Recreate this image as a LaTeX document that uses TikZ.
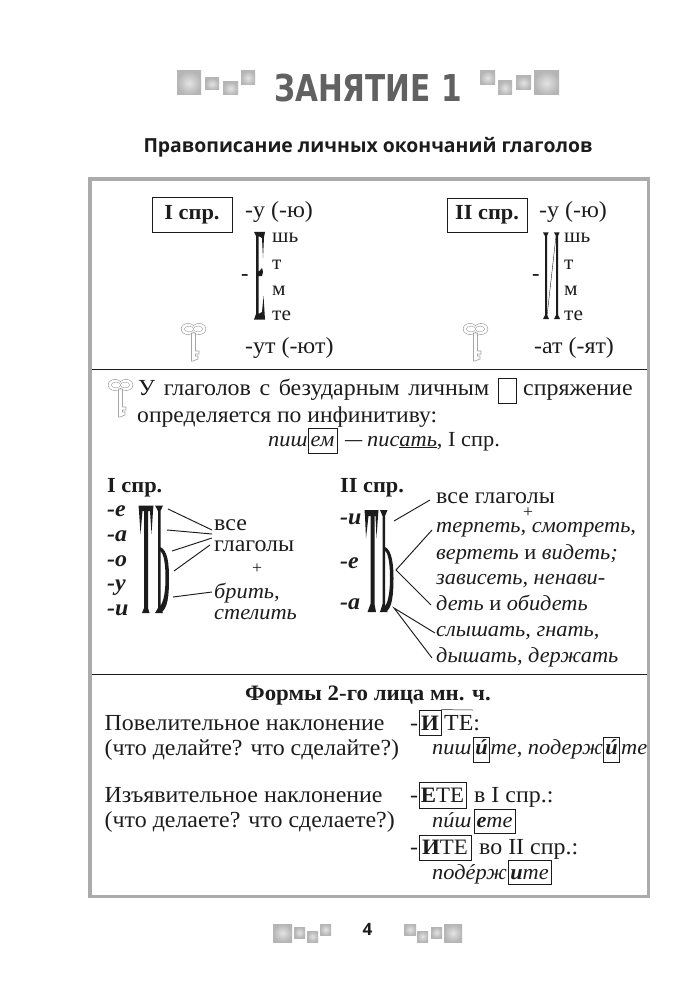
\documentclass[tikz,border=0pt]{standalone}
\usepackage{fontspec}
\setmainfont[FakeStretch=1.04]{Liberation Serif}
\newfontfamily\headfont{Open Sans}
\newfontfamily\titlefont{DejaVu Sans}
\usetikzlibrary{shapes.geometric}
\definecolor{ink}{HTML}{1C1C1C}
\definecolor{framegray}{HTML}{ABABAB}
\newcommand{\sqr}[4]{\shade[inner color=gray!22,outer color=gray!58] (#1,#2) rectangle (#3,#4);}
\newcommand{\acut}[1]{\setbox0\hbox{#1}\hbox{\rlap{\hbox to\wd0{\hss\kern0.08em ´\hss}}\box0}}
\tikzset{
  x=1pt,y=-1pt,
  txt/.style={anchor=base west,inner sep=0pt,text=ink,font=\fontsize{23}{26}\selectfont},
  small/.style={txt,font=\fontsize{20.5}{24}\selectfont},
  plus/.style={anchor=center,inner sep=0pt,text=ink,font=\fontsize{17}{20}\selectfont},
  ital/.style={txt,font=\fontsize{21.5}{25}\selectfont\itshape},
  bold/.style={txt,font=\fontsize{21.5}{26}\selectfont\bfseries},
  bital/.style={txt,font=\fontsize{23}{26}\selectfont\bfseries\itshape},
  frameline/.style={draw=ink,line width=0.9pt},
  conn/.style={draw=ink,line width=0.95pt},
  boxed/.style={draw=ink,line width=0.8pt,inner sep=0pt,text=ink,text depth=3pt,text height=#1},
  key/.pic={
    \draw[gray!70,line width=0.7pt] (7,6) ellipse (6.8 and 5.5);
    \draw[gray!70,line width=0.7pt] (18,6) ellipse (6.8 and 5.5);
    \fill[white] (7,6) ellipse (6.3 and 5);
    \fill[white] (18,6) ellipse (6.3 and 5);
    \draw[gray!70,line width=0.6pt] (8,6) ellipse (4.6 and 2.8);
    \draw[gray!70,line width=0.6pt] (17,6) ellipse (4.6 and 2.8);
    \fill[white] (8,6) ellipse (4.2 and 2.4);
    \fill[white] (17,6) ellipse (4.2 and 2.4);
    \draw[gray!70,line width=0.7pt,fill=white] (10.5,10)--(14.5,10)--(14.5,28)--(18,28)--(18,31)--(14.5,31)--(14.5,33)--(17,33)--(17,36)--(12,38)--(10.5,38)--cycle;
  }
}
\begin{document}
\begin{tikzpicture}
\useasboundingbox (0,0) rectangle (700,1000);
\fill[white] (0,0) rectangle (700,1000);
% title ornaments
\sqr{177}{71}{201}{95}\sqr{205}{78}{219}{90}\sqr{223}{82}{238}{95}\sqr{241}{71}{255}{85}
\sqr{480}{71}{495}{85}\sqr{498}{81}{512}{95}\sqr{516}{76}{531}{90}\sqr{534}{71}{559}{95}
\node[anchor=base,inner sep=0pt,text=black!62,font=\fontsize{37}{40}\selectfont\titlefont\bfseries] (title) at (368,101.5) {\scalebox{0.80}[1]{ЗАНЯТИЕ 1}};
\node[anchor=base,inner sep=0pt,text=ink,font=\fontsize{19.4}{23}\selectfont\headfont\bfseries] (head) at (368,153) {Правописание личных окончаний глаголов};
% frame
\draw[framegray,line width=3.6pt] (90,179) rectangle (648.5,896.5);
\draw[frameline] (92,369.5) -- (647,369.5);
\draw[frameline] (92,674.5) -- (647,674.5);

% Section 1
\node[draw=ink,line width=0.9pt,inner sep=0pt,minimum width=80pt,minimum height=35pt,font=\fontsize{21.5}{26}\selectfont\bfseries,text=ink] (b1) at (192,215) {I спр.};
\node[draw=ink,line width=0.9pt,inner sep=0pt,minimum width=80pt,minimum height=34pt,font=\fontsize{21.5}{26}\selectfont\bfseries,text=ink] (b2) at (487,215) {II спр.};
\node[txt] (a1) at (245,218) {-у (-ю)};
\node[small] (a2) at (272,243) {шь};
\node[small] (a3) at (272,269) {т};
\node[small] (a4) at (272,295) {м};
\node[small] (a5) at (272,320) {те};
\node[txt] (a6) at (245,353) {-ут (-ют)};
\node[bold] (a7) at (241,280) {-};
% bracket I
\fill[ink] (254,232)--(265,232)--(264,237)--(263,258)--(262,238)--(258.5,236)--(258.5,272)--(262,268)--(263,272)--(262,276)--(258.5,276)--(258.5,314)--(262,312)--(263.5,296)--(265,319.5)--(254,319.5)--(256,314)--(256,236)--cycle;
\node[txt] (c1) at (539,218) {-у (-ю)};
\node[small] (c2) at (564,243) {шь};
\node[small] (c3) at (564,269) {т};
\node[small] (c4) at (564,295) {м};
\node[small] (c5) at (564,320) {те};
\node[txt] (c6) at (534,353) {-ат (-ят)};
\node[bold] (c7) at (532,280) {-};
% bracket II
\fill[ink] (543,232.5)--(548.5,232.5)--(547,236)--(547,315)--(549,319)--(543,319)--(545,315)--(545,236)--cycle;
\fill[ink] (554,232.5)--(559.5,232.5)--(558,236)--(558,315)--(560,319)--(554,319)--(556,315)--(556,236)--cycle;
\coordinate (d1) at (556,236);
\coordinate (d2) at (547,316);
\draw[ink,line width=0.4pt] (d1)--(d2);
\pic at (181,323) {key};
\pic at (463,323) {key};

% Section 2
\pic at (108,379) {key};
\node[txt] (s1) at (138,395) {\hbox to 351pt{У\hfill глаголов\hfill с\hfill безударным\hfill личным}};
\node[draw=ink,line width=0.9pt,inner sep=0pt,minimum width=18pt,minimum height=25pt] (s2) at (507,390.5) {};
\node[txt] (s3) at (523,395) {спряжение};
\node[txt,font=\fontsize{22.7}{26}\selectfont] (s4) at (137,422) {определяется по инфинитиву:};
\node[ital] (s5) at (268,446) {пиш};
\node[boxed=14pt,minimum width=29pt,minimum height=25pt,font=\fontsize{21.5}{25}\selectfont\itshape] (s6) at (322.5,440.5) {ем};
\node[txt] (s7) at (345,446) {\scalebox{0.72}[1]{—}};
\node[ital] (s8) at (367,446) {пис\underline{ать}{\upshape, I спр.}};

\node[bold] (l0) at (107,492) {I спр.};
\node[bital] (l1) at (107,516) {-е};
\node[bital] (l2) at (107,541) {-а};
\node[bital] (l3) at (107,566) {-о};
\node[bital] (l4) at (107,590) {-у};
\node[bital] (l5) at (107,615) {-и};
% glyph I
\fill[ink] (138.5,505.5)--(153.5,505.5)--(153,511)--(151.5,534)--(150,511)--(148,511)--(148,608)--(149.5,613)--(142,613)--(144,608)--(144,511)--(142.5,511)--(140.5,534)--(139,511)--cycle;
\fill[ink] (155,505.5)--(163,505.5)--(160.5,511)--(160.5,608)--(163,613)--(155,613)--(158,608)--(158,511)--cycle;
\fill[ink] (160,547)  .. controls (168,550) and (169,565) .. (169,578) .. controls (169,595) and (168,610) .. (160,613) -- (160,606) .. controls (164,602) and (165.5,590) .. (165.5,578) .. controls (165.5,565) and (164,553) .. (160,551) -- cycle;

\node[txt] (l6) at (214,530) {все};
\node[txt] (l7) at (214,551) {глаголы};
\node[plus] (l8) at (257,569) {+};
\node[ital] (l9) at (214,598) {брить,};
\node[ital] (l10) at (214,619) {стелить};
\coordinate (p1) at (168,509);\coordinate (q1) at (212,530);
\coordinate (p2) at (167,530);\coordinate (q2) at (212,534);
\coordinate (p3) at (172,551);\coordinate (q3) at (212,538);
\coordinate (p4) at (174,571);\coordinate (q4) at (210,545);
\coordinate (p5) at (173,597);\coordinate (q5) at (212,592);
\draw[conn] (p1)--(q1); \draw[conn] (p2)--(q2); \draw[conn] (p3)--(q3); \draw[conn] (p4)--(q4); \draw[conn] (p5)--(q5);

\node[bold] (r0) at (340,492) {II спр.};
\node[bital] (r1) at (340,524) {-и};
\node[bital] (r2) at (340,568) {-е};
\node[bital] (r3) at (340,609) {-а};
% glyph II
\fill[ink] (364.5,510)--(378.5,510)--(378,516)--(376.5,538)--(375.5,516)--(374.5,516)--(374.5,604)--(376,612)--(367.5,612)--(370.5,604)--(370.5,516)--(368.5,516)--(366,538)--(365,516)--cycle;
\fill[ink] (380,510)--(387.5,510)--(385,516)--(385,604)--(387.5,612)--(380,612)--(382.5,604)--(382.5,516)--cycle;
\fill[ink] (385,547) .. controls (392,550) and (393.5,565) .. (393.5,578) .. controls (393.5,595) and (392,610) .. (385,612) -- (385,606) .. controls (388.5,602) and (390,590) .. (390,578) .. controls (390,565) and (388.5,553) .. (385,551) -- cycle;

\node[txt] (r4) at (436,503) {все глаголы};
\node[plus] (r5) at (528,513) {+};
\node[ital] (r6) at (436,532) {терпеть, смотреть,};
\node[ital] (r7) at (436,559) {вертеть {\upshape и} видеть;};
\node[ital] (r8) at (436,584) {зависеть, ненави-};
\node[ital] (r9) at (436,610) {деть {\upshape и} обидеть};
\node[ital] (r10) at (436,636) {слышать, гнать,};
\node[ital] (r11) at (436,662) {дышать, держать};
\coordinate (u1) at (394,521);\coordinate (v1) at (430,500);
\coordinate (u2) at (396,570);\coordinate (v2) at (432,530);\coordinate (v3) at (431,605);
\coordinate (u3) at (394,608);\coordinate (v4) at (435,633);\coordinate (v5) at (432,658);
\draw[conn] (u1)--(v1); \draw[conn] (v2)--(u2)--(v3); \draw[conn] (v4)--(u3)--(v5);

% Section 3
\node[anchor=base,inner sep=0pt,text=ink,font=\fontsize{22}{25}\selectfont\bfseries] (f0) at (368,700) {Формы 2-го лица мн. ч.};
\node[txt] (f1) at (104.5,730) {Повелительное наклонение};
\node[txt] (f2) at (104.5,755) {(что делайте? что сделайте?)};
\node[txt] (f3) at (410,730) {-};
\node[boxed=18pt,minimum width=22pt,minimum height=25pt,font=\fontsize{22}{26}\selectfont\bfseries] (f4) at (430,722.5) {И};
\node[txt] (f5) at (444,730) {ТЕ:};
\coordinate (ov) at (473,710);
\draw[ink,line width=0.5pt] (f4.north east)--(ov);
\node[ital] (f6) at (432,754) {пиш};
\node[boxed=12pt,minimum width=15.5pt,minimum height=25pt,font=\fontsize{21.5}{25}\selectfont\bfseries\itshape] (f7) at (481.5,749.5) {\acut{и}};
\node[ital] (f8) at (490.5,754) {те{\upshape,} подерж};
\node[boxed=12pt,minimum width=15.5pt,minimum height=25pt,font=\fontsize{21.5}{25}\selectfont\bfseries\itshape] (f9) at (611.5,749.5) {\acut{и}};
\node[ital] (f10) at (621,754) {те};

\node[txt] (g1) at (104.5,802) {Изъявительное наклонение};
\node[txt] (g2) at (104.5,827) {(что делаете? что сделаете?)};
\node[txt] (g3) at (410,802) {-};
\node[boxed=17pt,minimum width=47pt,minimum height=26pt,font=\fontsize{22}{26}\selectfont] (g4) at (442.5,795) {\textbf{Е}ТЕ};
\node[txt] (g5) at (474,802) {в I спр.:};
\node[ital] (g6) at (432,827) {п\acut{и}ш};
\node[boxed=15pt,minimum width=41pt,minimum height=24pt,font=\fontsize{21.5}{25}\selectfont\itshape] (g7) at (494.5,821) {\textbf{е}те};
\node[txt] (g8) at (410,854) {-};
\node[boxed=16pt,minimum width=52pt,minimum height=25pt,font=\fontsize{22}{26}\selectfont] (g9) at (445,847.5) {\textbf{И}ТЕ};
\node[txt] (g10) at (479,854) {во II спр.:};
\node[ital] (g11) at (432,879) {под\acut{е}рж};
\node[boxed=17pt,minimum width=43pt,minimum height=24pt,font=\fontsize{21.5}{25}\selectfont\itshape] (g12) at (529.5,872) {\textbf{и}те};

% footer
\sqr{273}{924}{292}{942}\sqr{294}{927}{305}{938}\sqr{307}{931}{318}{942}\sqr{320}{924}{331}{935}
\sqr{404}{924}{416}{935}\sqr{417}{931}{428}{942}\sqr{431}{927}{442}{938}\sqr{444}{924}{462}{942}
\node[anchor=base,inner sep=0pt,text=ink,font=\fontsize{17}{20}\selectfont\headfont\bfseries] (pg) at (367.5,935) {4};
\end{tikzpicture}
\end{document}
